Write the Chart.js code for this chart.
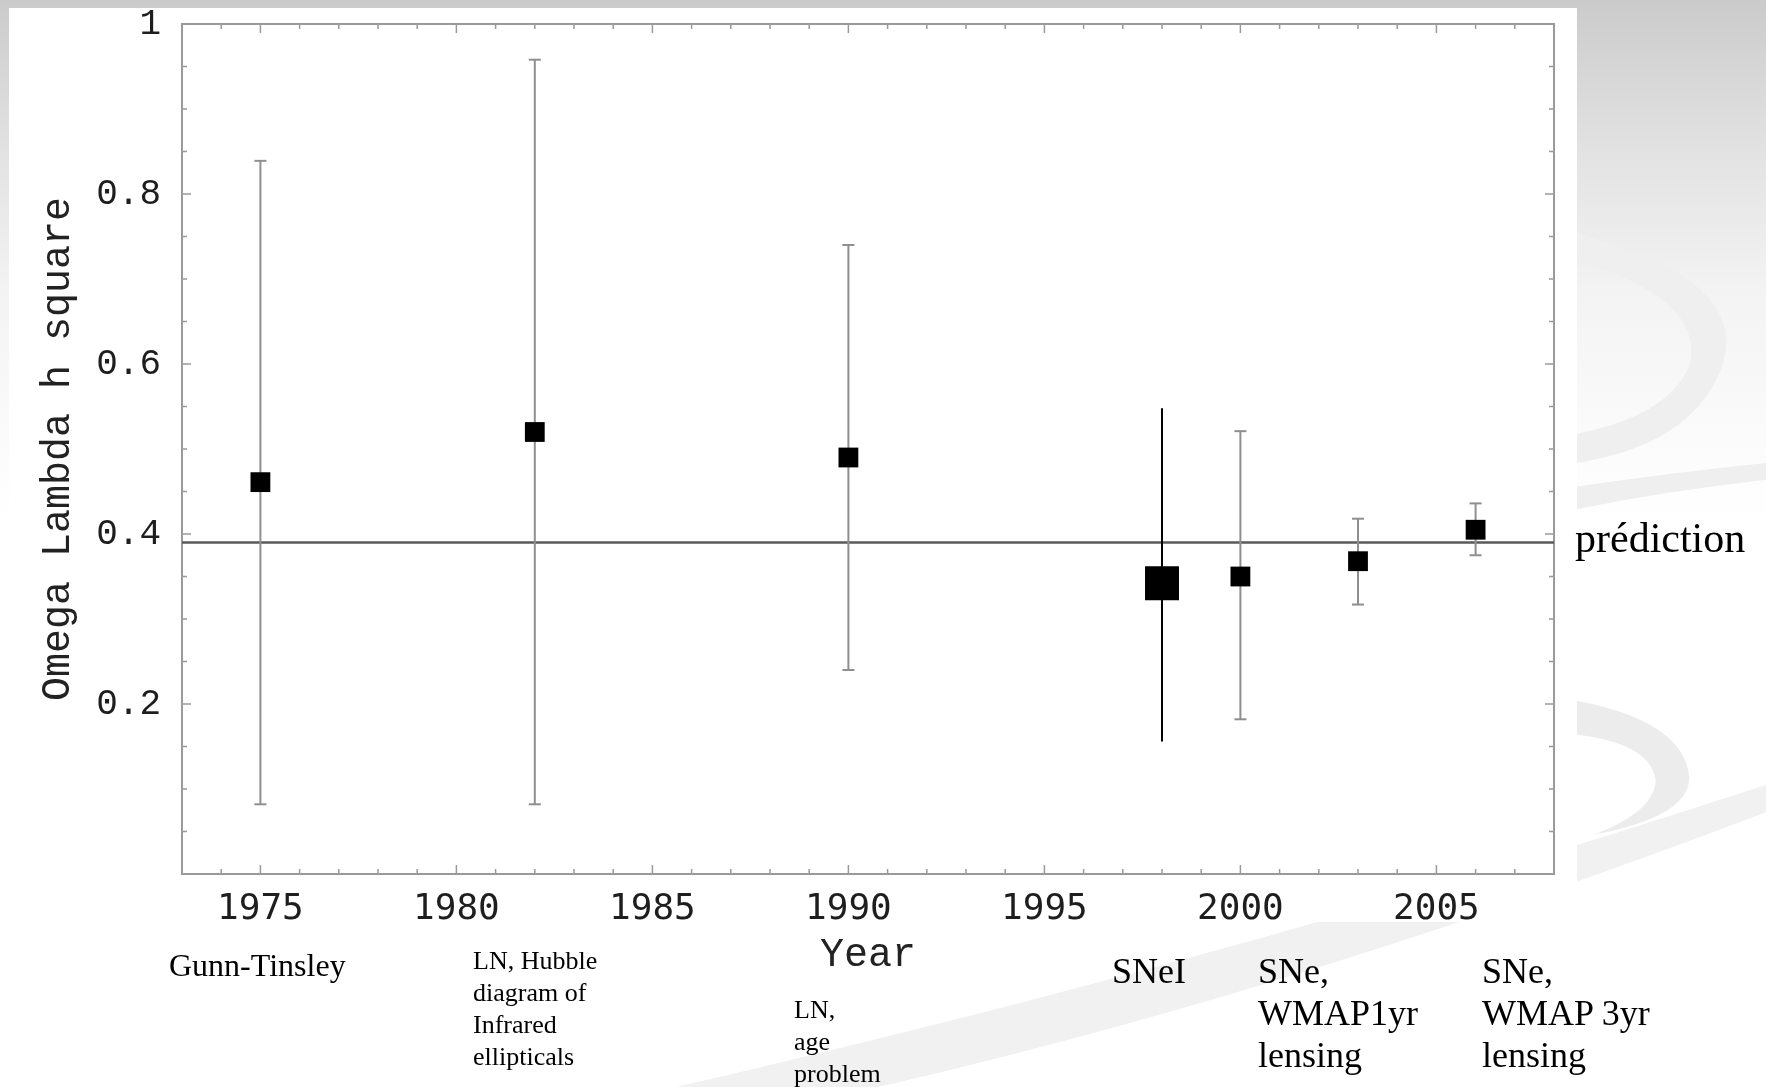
<!DOCTYPE html>
<html lang="fr">
<head>
<meta charset="utf-8">
<title>Omega Lambda h square</title>
<script src="https://cdn.jsdelivr.net/npm/chart.js@4.4.1/dist/chart.umd.min.js"></script>
<style>
  html, body { margin: 0; padding: 0; }
  body {
    width: 1766px; height: 1087px; overflow: hidden; position: relative;
    background: linear-gradient(to bottom, #cbcbcb 0px, #e2e2e2 150px, #f3f3f3 290px, #fafafa 420px, #ffffff 520px);
    font-family: "Liberation Serif", "Times New Roman", serif; color: #000;
  }
  #deco { position: absolute; left: 0; top: 0; }
  #panel { position: absolute; left: 9px; top: 8px; width: 1568px; height: 914px; background: #fff; }
  #wrap { position: absolute; left: 0; top: 0; width: 1766px; height: 1087px; }
  .note { position: absolute; white-space: nowrap; }
  .small { font-size: 26px; line-height: 32px; }
  .big { font-size: 36px; line-height: 42px; }
</style>
</head>
<body>
<!-- slide background swooshes (drawn in 1568x965 units) -->
<svg id="deco" width="1766" height="1087" viewBox="0 0 1568 965" preserveAspectRatio="none">
  <path d="M1400 207 Q1560 250 1527 330 Q1500 395 1400 411 L1400 385 Q1480 370 1500 325 Q1515 265 1400 232 Z" fill="#efefef"/>
  <path d="M1400 432 Q1480 420 1568 411 L1568 426 Q1480 436 1400 452 Z" fill="#efefef"/>
  <path d="M1400 622 Q1495 640 1500 690 Q1500 725 1415 741 Q1470 720 1470 692 Q1465 660 1400 652 Z" fill="#ececec"/>
  <path d="M600 965 Q1100 850 1568 697 L1568 721 Q1150 880 780 965 Z" fill="#f1f1f1"/>
</svg>
<div id="panel"></div>
<div id="wrap"><canvas id="omegaChart"></canvas></div>

<div class="note" style="left:169px; top:949px; font-size:32px; line-height:32px;">Gunn-Tinsley</div>
<div class="note small" style="left:473px; top:945px;">LN, Hubble<br>diagram of<br>Infrared<br>ellipticals</div>
<div class="note small" style="left:794px; top:994px;">LN,<br>age<br>problem</div>
<div class="note big" style="left:1112px; top:950px;">SNeI</div>
<div class="note big" style="left:1258px; top:950px;">SNe,<br>WMAP1yr<br>lensing</div>
<div class="note big" style="left:1482px; top:950px;">SNe,<br>WMAP 3yr<br>lensing</div>
<div class="note" style="left:1575px; top:517px; font-size:42px; line-height:42px;">prédiction</div>

<script>
const years = [1975, 1982, 1990, 1998, 2000, 2003, 2006];
const omegaLambdaH2 = [0.461, 0.520, 0.490, 0.342, 0.350, 0.368, 0.405];
const errLow = [0.082, 0.082, 0.240, 0.156, 0.182, 0.317, 0.375];
const errHigh = [0.839, 0.958, 0.740, 0.548, 0.521, 0.418, 0.436];
const prediction = 0.39;
const snYear = 1998; // SNeI point: bigger marker, bar without caps

// axes
const xRange = [1973, 2008];
const yRange = [0, 1];
const xTickYears = [1975, 1980, 1985, 1990, 1995, 2000, 2005];
const yTickValues = [0.2, 0.4, 0.6, 0.8, 1];

document.addEventListener("DOMContentLoaded", function() {
    // error bars as broken line segments (null breaks the line)
    const grayBars = [];
    const snBar = [];
    years.forEach((yr, i) => {
        const seg = [{x: yr, y: errLow[i]}, {x: yr, y: errHigh[i]}, {x: yr, y: null}];
        if (yr === snYear) snBar.push(...seg);
        else grayBars.push(...seg);
    });

    // frame with inward ticks on all four sides
    const frameTicks = {
        id: 'frameTicks',
        beforeDatasetsDraw(chart) {
            const {ctx, chartArea: a, scales: {x, y}} = chart;
            ctx.save();
            ctx.strokeStyle = '#9a9a9a';
            ctx.lineWidth = 2;
            ctx.strokeRect(a.left, a.top, a.right - a.left, a.bottom - a.top);
            ctx.lineWidth = 1.5;
            ctx.beginPath();
            for (let yr = Math.ceil(x.min); yr <= x.max; yr++) {
                const px = x.getPixelForValue(yr);
                const len = yr % 5 === 0 ? 9 : 5;
                ctx.moveTo(px, a.bottom); ctx.lineTo(px, a.bottom - len);
                ctx.moveTo(px, a.top); ctx.lineTo(px, a.top + len);
            }
            for (let k = 1; k < 20; k++) {
                const py = y.getPixelForValue(k * 0.05);
                const len = k % 4 === 0 ? 9 : 5;
                ctx.moveTo(a.left, py); ctx.lineTo(a.left + len, py);
                ctx.moveTo(a.right, py); ctx.lineTo(a.right - len, py);
            }
            ctx.stroke();
            ctx.restore();
        }
    };

    const ctx = document.getElementById('omegaChart').getContext('2d');
    new Chart(ctx, {
        type: 'scatter',
        data: {
            datasets: [
                {
                    label: 'Omega Lambda h square',
                    data: years.map((yr, i) => ({x: yr, y: omegaLambdaH2[i]})),
                    pointStyle: 'rect',
                    pointRadius: c => years[c.dataIndex] === snYear ? 24 : 14,
                    backgroundColor: '#000',
                    borderWidth: 0,
                    order: 0
                },
                {
                    label: 'error bars',
                    data: grayBars,
                    showLine: true,
                    spanGaps: false,
                    borderColor: '#8f8f8f',
                    borderWidth: 2,
                    pointStyle: 'line',
                    pointRadius: 6,
                    pointBorderColor: '#8f8f8f',
                    pointBorderWidth: 2,
                    order: 1
                },
                {
                    label: 'SNeI error bar',
                    data: snBar,
                    showLine: true,
                    spanGaps: false,
                    borderColor: '#000',
                    borderWidth: 2,
                    pointRadius: 0,
                    order: 1
                },
                {
                    label: 'prédiction',
                    data: [{x: xRange[0], y: prediction}, {x: xRange[1], y: prediction}],
                    showLine: true,
                    borderColor: '#5a5a5a',
                    borderWidth: 2.5,
                    pointRadius: 0,
                    order: 2
                }
            ]
        },
        options: {
            responsive: true,
            maintainAspectRatio: false,
            animation: false,
            events: [],
            layout: { padding: { left: 0, top: 24, right: 212, bottom: 0 } },
            plugins: { legend: { display: false }, tooltip: { enabled: false } },
            scales: {
                x: {
                    type: 'linear',
                    position: 'bottom',
                    min: xRange[0],
                    max: xRange[1],
                    afterBuildTicks: s => { s.ticks = xTickYears.map(v => ({value: v})); },
                    afterFit: s => { s.height = 213; s.paddingLeft = 0; s.paddingRight = 0; },
                    grid: { display: false, drawTicks: false },
                    border: { display: false },
                    ticks: {
                        padding: 14,
                        color: '#1e1e1e',
                        font: { family: '"DejaVu Sans Mono", monospace', size: 36 },
                        callback: v => String(v)
                    },
                    title: {
                        display: true,
                        text: 'Year',
                        color: '#222',
                        font: { family: '"Liberation Mono", monospace', size: 40 },
                        padding: { top: 108, bottom: 108 }
                    }
                },
                y: {
                    min: yRange[0],
                    max: yRange[1],
                    afterBuildTicks: s => { s.ticks = yTickValues.map(v => ({value: v})); },
                    afterFit: s => { s.width = 182; s.paddingTop = 0; s.paddingBottom = 0; },
                    grid: { display: false, drawTicks: false },
                    border: { display: false },
                    ticks: {
                        padding: 21,
                        color: '#1e1e1e',
                        font: { family: '"Liberation Mono", monospace', size: 36 },
                        callback: v => v === 1 ? '1' : v.toFixed(1)
                    },
                    title: {
                        display: true,
                        text: 'Omega Lambda h square',
                        color: '#222',
                        font: { family: '"Liberation Mono", monospace', size: 40 },
                        padding: { top: 34, bottom: 34 }
                    }
                }
            }
        },
        plugins: [frameTicks]
    });
});
</script>
</body>
</html>
